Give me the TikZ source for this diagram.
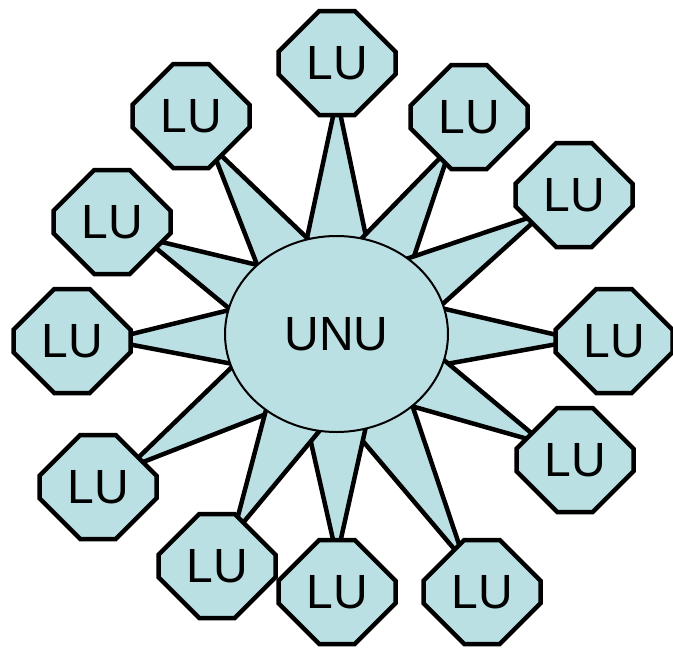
\documentclass[tikz,border=0pt]{standalone}
\usepackage{fontspec}
\setmainfont{Liberation Sans}
\usetikzlibrary{shapes.geometric}
\usetikzlibrary{shapes.misc}
\usetikzlibrary{calc}
\usetikzlibrary{backgrounds}

\definecolor{lublue}{RGB}{187,224,227}

\begin{document}
\begin{tikzpicture}[%
        x=1pt, y=-1pt,
        unit/.style={
            % the shape:
            chamfered rectangle,
            chamfered rectangle xsep=24pt,
            chamfered rectangle ysep=24pt,
            % the rest:
            minimum width=117pt,
            minimum height=104pt,
            inner sep=0pt,
            line width=4.5pt,
            draw=black,
            fill=lublue,
            font=\fontsize{48}{52}\selectfont,
        },
        hub/.style={
            ellipse,
            minimum width=223pt,
            minimum height=196pt,
            inner sep=0pt,
            line width=2pt,
            draw=black,
            fill=lublue,
            font=\fontsize{48}{52}\selectfont
        },
        spike/.style={
            line width=4.5pt,
            draw=black,
            fill=lublue,
            line join=round
        }
    ]
    \useasboundingbox (0,0) rectangle (673,649);

    \node[hub] (unu) at (336.5,334) {UNU};

    \foreach \x/\y [count=\i] in {337/63, 469/117, 574/195, 614/341, 575/460, 482/592,
            337/592, 217/566, 98/487, 72/341, 112/222, 191/116}
        \node[unit] (lu\i) at (\x,\y) {LU};

    \begin{scope}[on background layer]
        \foreach \i in {1,2,3,4,6,5,7,9,8,10,11,12}
            \filldraw[spike] ($(lu\i)!35pt!(unu)$) -- ($(unu)!50pt!90:(lu\i)$)
                -- ($(unu)!50pt!-90:(lu\i)$) -- cycle;
    \end{scope}
\end{tikzpicture}
\end{document}
